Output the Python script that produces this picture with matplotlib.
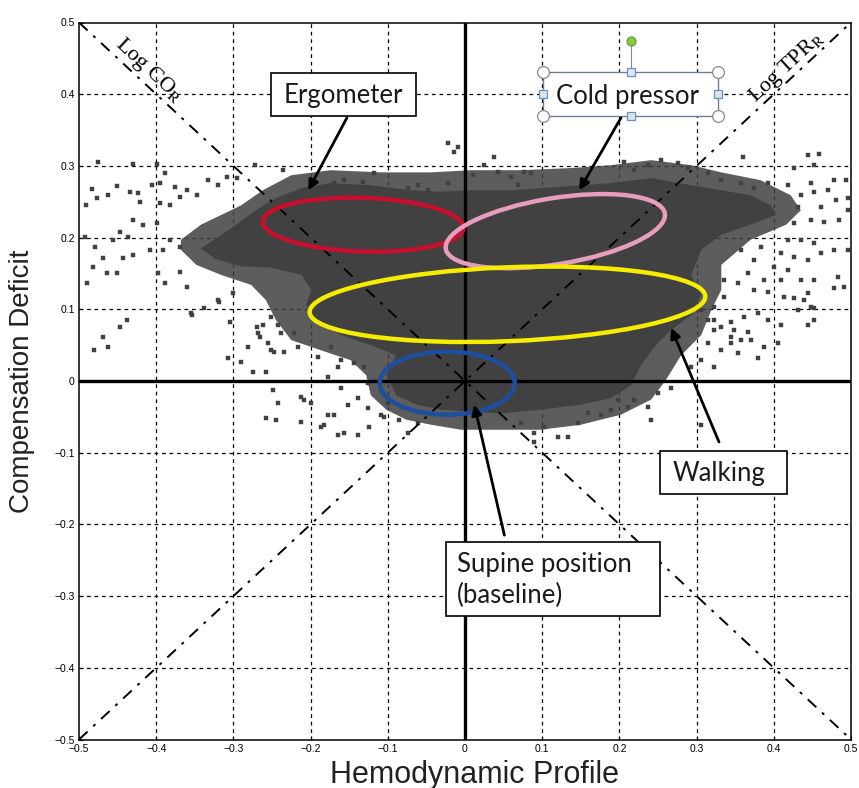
import matplotlib
matplotlib.use("Agg")
import matplotlib.pyplot as plt
from matplotlib.patches import Polygon, Ellipse, Rectangle

plt.rcParams['mathtext.fontset'] = 'stix'

# ---------------- data (data units) ----------------
ticks = [-0.5, -0.4, -0.3, -0.2, -0.1, 0, 0.1, 0.2, 0.3, 0.4, 0.5]
tick_labels = ["\u22120.5", "\u22120.4", "\u22120.3", "\u22120.2", "\u22120.1", "0",
               "0.1", "0.2", "0.3", "0.4", "0.5"]

# outline of the densest part of the point cloud
core_x = [-0.342, -0.303, -0.271, -0.245, -0.212, -0.174, -0.122, -0.070, -0.031, 0.008,
          0.060, 0.124, 0.189, 0.241, 0.293, 0.332, 0.370, 0.396, 0.403, 0.370,
          0.332, 0.306, 0.293, 0.306, 0.293, 0.267, 0.247, 0.228, 0.215, 0.189,
          0.150, 0.098, 0.047, 0.008, -0.031, -0.063, -0.089, -0.102, -0.089, -0.122,
          -0.161, -0.193, -0.206, -0.199, -0.212, -0.251, -0.290, -0.323]
core_y = [0.185, 0.213, 0.238, 0.255, 0.269, 0.276, 0.273, 0.266, 0.264, 0.266,
          0.266, 0.271, 0.276, 0.283, 0.273, 0.266, 0.259, 0.245, 0.232, 0.218,
          0.204, 0.183, 0.148, 0.120, 0.092, 0.071, 0.050, 0.022, -0.006, -0.024,
          -0.033, -0.040, -0.045, -0.043, -0.040, -0.033, -0.020, 0.008, 0.036, 0.050,
          0.064, 0.085, 0.106, 0.127, 0.148, 0.158, 0.160, 0.170]

# outline of the looser fringe of the cloud
halo_x = [-0.368, -0.342, -0.290, -0.262, -0.225, -0.174, -0.109, -0.044, 0.008, 0.073,
          0.137, 0.189, 0.241, 0.293, 0.332, 0.383, 0.422, 0.435, 0.416, 0.370,
          0.332, 0.332, 0.319, 0.306, 0.280, 0.260, 0.241, 0.202, 0.150, 0.098,
          0.047, -0.005, -0.044, -0.076, -0.102, -0.122, -0.128, -0.148, -0.187, -0.225,
          -0.245, -0.258, -0.277, -0.316, -0.348, -0.368]
halo_y = [0.197, 0.218, 0.245, 0.266, 0.287, 0.294, 0.291, 0.291, 0.294, 0.294,
          0.297, 0.301, 0.308, 0.301, 0.291, 0.280, 0.259, 0.238, 0.218, 0.197,
          0.162, 0.127, 0.099, 0.064, 0.036, 0.001, -0.026, -0.047, -0.061, -0.068,
          -0.068, -0.068, -0.061, -0.054, -0.040, -0.020, 0.008, 0.029, 0.043, 0.057,
          0.085, 0.113, 0.134, 0.148, 0.162, 0.183]

# scattered single points, left wing
left_x = [-0.475, -0.430, -0.399, -0.389, -0.483, -0.477, -0.462, -0.451, -0.434, -0.424,
          -0.421, -0.491, -0.405, -0.395, -0.376, -0.360, -0.347, -0.333, -0.320, -0.308,
          -0.295, -0.272, -0.236, -0.395, -0.382, -0.369, -0.430, -0.417, -0.399, -0.447,
          -0.437, -0.456, -0.492, -0.479, -0.469, -0.443, -0.430, -0.408, -0.391, -0.382,
          -0.369, -0.482, -0.464, -0.451, -0.490, -0.398, -0.389, -0.369, -0.360, -0.354,
          -0.320, -0.301, -0.304, -0.447, -0.438, -0.469, -0.269, -0.266, -0.481, -0.462,
          -0.355, -0.338, -0.319, -0.307, -0.290, -0.281, -0.255, -0.247]
left_y = [0.305, 0.303, 0.303, 0.290, 0.268, 0.255, 0.259, 0.272, 0.264, 0.262,
          0.250, 0.245, 0.273, 0.276, 0.271, 0.266, 0.259, 0.280, 0.273, 0.285,
          0.283, 0.301, 0.294, 0.248, 0.245, 0.257, 0.225, 0.218, 0.220, 0.208,
          0.201, 0.197, 0.201, 0.187, 0.172, 0.172, 0.176, 0.183, 0.183, 0.197,
          0.187, 0.159, 0.151, 0.151, 0.137, 0.151, 0.137, 0.152, 0.131, 0.092,
          0.113, 0.123, 0.082, 0.075, 0.085, 0.061, 0.075, 0.061, 0.043, 0.047,
          0.095, 0.102, 0.110, 0.032, 0.026, 0.047, 0.053, 0.040]

# scattered single points, below-left of the cloud
lower_left_x = [-0.268, -0.262, -0.251, -0.242, -0.238, -0.251, -0.234, -0.216, -0.222, -0.275,
                -0.258, -0.249, -0.242, -0.258, -0.245, -0.212, -0.209, -0.199, -0.212, -0.187,
                -0.177, -0.161, -0.152, -0.165, -0.139, -0.124, -0.126, -0.139, -0.109, -0.100,
                -0.085, -0.074, -0.061, -0.177, -0.165, -0.190, -0.161, -0.144, -0.126, -0.131,
                -0.174, -0.183, -0.170, -0.157, -0.105]
lower_left_y = [0.067, 0.078, 0.089, 0.078, 0.067, 0.043, 0.040, 0.047, 0.067, 0.013,
                0.013, -0.013, -0.031, -0.052, -0.054, -0.022, -0.026, -0.031, -0.057, -0.064,
                -0.047, -0.010, -0.033, -0.075, -0.075, -0.064, -0.038, -0.024, -0.047, -0.031,
                -0.054, -0.073, -0.059, 0.006, 0.020, 0.033, 0.029, 0.025, -0.003, 0.020,
                0.047, -0.061, -0.047, -0.073, -0.050]

# scattered single points above the cloud
top_x = [-0.022, -0.009, -0.014, 0.038, 0.025, 0.043, 0.010, 0.060, 0.076, 0.085,
         0.069, -0.118, -0.132, -0.157, -0.170, -0.074, -0.048, -0.022, -0.035, -0.061,
         0.206, 0.237, 0.254, 0.276, 0.289, 0.315, 0.332, 0.358, 0.374, 0.392, 0.219]
top_y = [0.332, 0.326, 0.319, 0.312, 0.301, 0.291, 0.287, 0.285, 0.291, 0.290,
         0.273, 0.290, 0.278, 0.280, 0.276, 0.269, 0.266, 0.276, 0.257, 0.273,
         0.305, 0.301, 0.308, 0.304, 0.297, 0.290, 0.280, 0.276, 0.269, 0.276, 0.294]

# scattered single points, right wing
right_x = [0.444, 0.459, 0.360, 0.426, 0.452, 0.478, 0.494, 0.418, 0.448, 0.452,
           0.470, 0.435, 0.431, 0.461, 0.481, 0.496, 0.448, 0.465, 0.484, 0.496,
           0.426, 0.418, 0.435, 0.452, 0.478, 0.496, 0.409, 0.426, 0.444, 0.461,
           0.400, 0.418, 0.435, 0.452, 0.483, 0.491, 0.478, 0.409, 0.387, 0.374,
           0.392, 0.413, 0.426, 0.439, 0.452, 0.431, 0.452, 0.444, 0.409, 0.392,
           0.380, 0.361, 0.345, 0.335, 0.354, 0.367, 0.374, 0.383, 0.358, 0.335,
           0.323, 0.315, 0.332, 0.348, 0.367, 0.444, 0.448, 0.405, 0.387, 0.370,
           0.380, 0.354, 0.332, 0.345, 0.323]
right_y = [0.315, 0.317, 0.312, 0.297, 0.301, 0.280, 0.280, 0.273, 0.276, 0.264,
           0.266, 0.259, 0.243, 0.243, 0.252, 0.255, 0.225, 0.222, 0.225, 0.238,
           0.220, 0.197, 0.197, 0.192, 0.183, 0.183, 0.179, 0.173, 0.169, 0.179,
           0.159, 0.155, 0.141, 0.141, 0.145, 0.131, 0.130, 0.141, 0.141, 0.127,
           0.124, 0.117, 0.116, 0.113, 0.102, 0.099, 0.085, 0.078, 0.078, 0.085,
           0.095, 0.089, 0.082, 0.117, 0.137, 0.151, 0.169, 0.187, 0.183, 0.141,
           0.103, 0.085, 0.075, 0.071, 0.068, 0.123, 0.103, 0.053, 0.047, 0.057,
           0.032, 0.039, 0.043, 0.061, 0.071]

# scattered single points, below-right of the cloud
lower_right_x = [0.306, 0.323, 0.358, 0.345, 0.323, 0.306, 0.293, 0.315, 0.267, 0.250,
                 0.237, 0.219, 0.211, 0.198, 0.189, 0.176, 0.159, 0.146, 0.133, 0.120,
                 0.102, 0.089, 0.073, 0.241, 0.306, 0.089]
lower_right_y = [0.099, 0.085, 0.057, 0.053, 0.020, 0.029, 0.020, 0.053, -0.010, -0.017,
                 -0.036, -0.026, -0.036, -0.026, -0.040, -0.047, -0.045, -0.059, -0.078, -0.078,
                 -0.064, -0.073, -0.059, -0.054, -0.061, -0.085]

# ellipses: (centre x, centre y, width, height, angle, colour)
ell_cx = [-0.132, 0.117, 0.055, -0.023]
ell_cy = [0.218, 0.209, 0.107, -0.003]
ell_w = [0.260, 0.288, 0.513, 0.175]
ell_h = [0.075, 0.092, 0.103, 0.088]
ell_ang = [-2.0, 10.0, 2.5, 0.0]
ell_col = ['#c8102e', '#e89dbd', '#f6ec00', '#1d4f9e']

# ---------------- figure ----------------
fig = plt.figure(figsize=(8.59, 7.88), dpi=100)
ax = fig.add_axes([79 / 859, 1 - 739.5 / 788, 772 / 859, 717 / 788])
ax.set_xlim(-0.5, 0.5)
ax.set_ylim(-0.5, 0.5)

# grid
for t in ticks[1:-1]:
    ax.axvline(t, color='black', lw=0.9, ls=(0, (3, 3)), zorder=1)
    ax.axhline(t, color='black', lw=0.9, ls=(0, (3, 3)), zorder=1)

cloud = '#414141'
ax.add_patch(Polygon(list(zip(halo_x, halo_y)), closed=True, fc=cloud, ec='none',
                     alpha=0.85, zorder=2))
ax.add_patch(Polygon(list(zip(core_x, core_y)), closed=True, fc=cloud, ec='none', zorder=2))
for xs, ys in [(left_x, left_y), (lower_left_x, lower_left_y), (top_x, top_y),
               (right_x, right_y), (lower_right_x, lower_right_y)]:
    ax.plot(xs, ys, ls='none', marker='s', ms=2.7, mfc=cloud, mec=cloud, mew=0.3, zorder=2)

# diagonals
ax.plot([-0.5, 0.5], [0.5, -0.5], color='black', lw=1.4, ls=(0, (6, 4, 1.5, 4)), zorder=3)
ax.plot([-0.5, 0.5], [-0.5, 0.5], color='black', lw=1.4, ls=(0, (6, 4, 1.5, 4)), zorder=3)
ax.text(-0.409, 0.433, r'Log CO$_{\mathrm{R}}$', rotation=-43, ha='center', va='center',
        fontsize=16, fontfamily='Liberation Serif', zorder=4)
ax.text(0.417, 0.437, r'Log TPR$_{\mathrm{R}}$', rotation=43, ha='center', va='center',
        fontsize=16, fontfamily='Liberation Serif', zorder=4)

# zero axes
ax.axvline(0, color='black', lw=2.4, zorder=3)
ax.axhline(0, color='black', lw=2.4, zorder=3)

# ellipses
for cx, cy, w, h, a, c in zip(ell_cx, ell_cy, ell_w, ell_h, ell_ang, ell_col):
    ax.add_patch(Ellipse((cx, cy), w, h, angle=a, fill=False, ec=c, lw=3.2, zorder=5))

# annotation boxes
lab_font = dict(fontfamily=['Lato', 'DejaVu Sans'], fontsize=18.5, color='#1a1a1a')

def box(x0, x1, y0, y1, ec='black', lw=1.2):
    ax.add_patch(Rectangle((x0, y0), x1 - x0, y1 - y0, fc='white', ec=ec, lw=lw, zorder=6))

def arrow(x0, y0, x1, y1):
    ax.annotate('', xy=(x1, y1), xytext=(x0, y0), zorder=7,
                arrowprops=dict(arrowstyle='-|>', color='black', lw=2.0,
                                mutation_scale=15, shrinkA=0, shrinkB=0))

box(-0.251, -0.063, 0.370, 0.430)
ax.text(-0.157, 0.398, 'Ergometer', ha='center', va='center', zorder=7, **lab_font)
arrow(-0.153, 0.367, -0.203, 0.266)

box(0.101, 0.328, 0.370, 0.431, ec='#6d7c96', lw=1.0)
ax.text(0.210, 0.397, 'Cold pressor', ha='center', va='center', zorder=7, **lab_font)
ax.plot([0.215, 0.215], [0.431, 0.474], color='#8a8a8a', lw=0.8, zorder=7)
ax.plot([0.101, 0.328, 0.101, 0.328], [0.431, 0.431, 0.370, 0.370], ls='none', marker='o',
        ms=8.5, mfc='white', mec='#8a8a8a', mew=0.9, zorder=8)
ax.plot([0.215, 0.215, 0.101, 0.328], [0.431, 0.370, 0.400, 0.400], ls='none', marker='s',
        ms=5.8, mfc='#d9e5f4', mec='#6f8fb5', mew=0.9, zorder=8)
ax.plot([0.215], [0.474], ls='none', marker='o', ms=6.5, mfc='#8cc63f', mec='#5f9a2f',
        mew=0.8, zorder=8)
arrow(0.202, 0.367, 0.148, 0.266)

box(0.253, 0.417, -0.158, -0.098)
ax.text(0.329, -0.129, 'Walking', ha='center', va='center', zorder=7, **lab_font)
arrow(0.329, -0.085, 0.267, 0.074)

box(-0.025, 0.253, -0.328, -0.225)
ax.text(-0.010, -0.256, 'Supine position', ha='left', va='center', zorder=7, **lab_font)
ax.text(-0.010, -0.299, '(baseline)', ha='left', va='center', zorder=7, **lab_font)
arrow(0.051, -0.215, 0.012, -0.033)

# axes styling
ax.set_xticks(ticks)
ax.set_yticks(ticks)
tick_font = dict(fontfamily=['Liberation Sans Narrow', 'Liberation Sans'], fontsize=7.5)
ax.set_xticklabels(tick_labels, **tick_font)
ax.set_yticklabels(tick_labels, **tick_font)
ax.tick_params(direction='in', length=3, width=0.8, pad=3)
for s in ax.spines.values():
    s.set_linewidth(1.1)
    s.set_zorder(9)

ax.set_xlabel('Hemodynamic Profile', fontsize=22, fontfamily='Liberation Sans',
              color='#222222', labelpad=4)
ax.xaxis.set_label_coords(0.512, -0.028, transform=ax.transAxes)
ax.xaxis.label.set_va('top')
ax.set_ylabel('Compensation Deficit', fontsize=20, fontfamily='Liberation Sans',
              color='#222222', labelpad=14)

fig.savefig('out.png', dpi=100)
